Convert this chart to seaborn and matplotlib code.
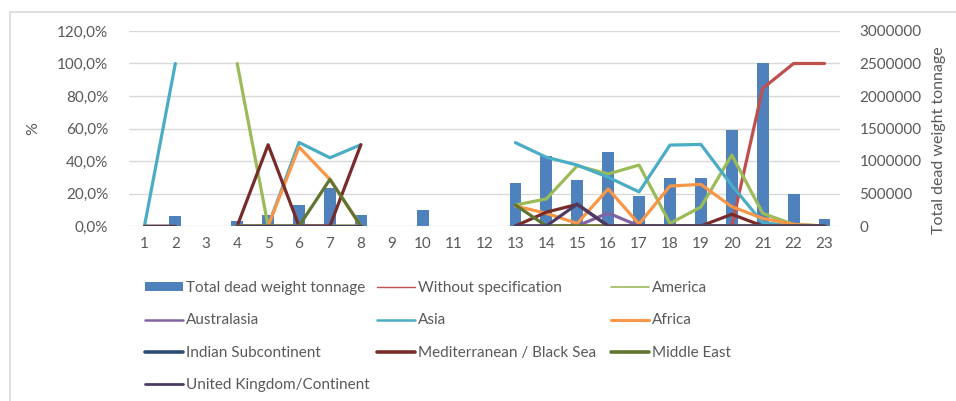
import numpy as np
import pandas as pd
import matplotlib
matplotlib.use("Agg")
import matplotlib.pyplot as plt
from matplotlib.lines import Line2D
from matplotlib.patches import Patch
from matplotlib.ticker import FuncFormatter, MultipleLocator
import seaborn as sns

# ---- data -------------------------------------------------------------
categories = list(range(1, 24))

total_dwt = [0, 150000, 0, 80000, 170000, 320000, 590000, 170000, 0, 250000,
             0, 0, 660000, 1070000, 710000, 1140000, 460000, 740000, 740000,
             1480000, 2500000, 500000, 110000]

N = None
without_specification = [0, 0, N, 0, 0, 0, 0, 0, N, N, N, N,
                         0, 0, 0, 0, 0, 0, 0, 0, 0.847, 1.0, 1.0]
america = [0, 0, N, 1.0, 0, 0, 0, 0, N, N, N, N,
           0.129, 0.167, 0.371, 0.32, 0.375, 0.016, 0.117, 0.437, 0.078, 0.01, 0]
australasia = [0, 0, N, 0, 0, 0, 0, 0, N, N, N, N,
               0, 0, 0, 0.08, 0, 0, 0, 0, 0, 0, 0]
asia = [0, 1.0, N, 0, 0, 0.514, 0.42, 0.50, N, N, N, N,
        0.513, 0.423, 0.375, 0.30, 0.21, 0.498, 0.502, 0.25, 0.02, 0, 0]
africa = [0, 0, N, 0, 0, 0.486, 0.287, 0, N, N, N, N,
          0.123, 0.078, 0.016, 0.228, 0.012, 0.246, 0.256, 0.119, 0.047, 0.01, 0]
indian_subcontinent = [0, 0, N, 0, 0, 0, 0, 0, N, N, N, N,
                       0, 0, 0, 0, 0, 0, 0, 0, 0, 0, 0]
mediterranean = [0, 0, N, 0, 0.5, 0, 0, 0.5, N, N, N, N,
                 0, 0.085, 0.133, 0, 0, 0, 0, 0.072, 0, 0, 0]
middle_east = [0, 0, N, 0, 0, 0, 0.287, 0, N, N, N, N,
               0.129, 0, 0, 0, 0, 0, 0, 0, 0, 0, 0]
uk_continent = [0, 0, N, 0, 0, 0, 0, 0, N, N, N, N,
                0, 0, 0.135, 0, 0, 0, 0, 0, 0, 0, 0]

series = {
    "Without specification": without_specification,
    "America": america,
    "Australasia": australasia,
    "Asia": asia,
    "Africa": africa,
    "Indian Subcontinent": indian_subcontinent,
    "Mediterranean / Black Sea": mediterranean,
    "Middle East": middle_east,
    "United Kingdom/Continent": uk_continent,
}

colors = {
    "Without specification": "#C0504D",
    "America": "#9BBB59",
    "Australasia": "#8064A2",
    "Asia": "#4BACC6",
    "Africa": "#F79646",
    "Indian Subcontinent": "#2C4D75",
    "Mediterranean / Black Sea": "#772C2A",
    "Middle East": "#5F7530",
    "United Kingdom/Continent": "#4D3B62",
}
legend_widths = {
    "Without specification": 1.0, "America": 1.2, "Australasia": 1.8,
    "Asia": 1.8, "Africa": 2.2, "Indian Subcontinent": 2.6,
    "Mediterranean / Black Sea": 2.6, "Middle East": 2.6,
    "United Kingdom/Continent": 2.0,
}
BAR_COLOR = "#4F81BD"
TEXT = "#595959"
GRID = "#D9D9D9"

# ---- long-form tables ---------------------------------------------------
bars_df = pd.DataFrame({"cat": [str(c) for c in categories], "dwt": total_dwt})

rows = []
for name, vals in series.items():
    seg = 0
    prev_none = True
    for i, v in enumerate(vals):
        if v is None:
            prev_none = True
            continue
        if prev_none:
            seg += 1
            prev_none = False
        rows.append({"series": name, "pos": i, "share": v, "segment": f"{name}-{seg}"})
lines_df = pd.DataFrame(rows)

# ---- figure -------------------------------------------------------------
sns.set_theme(style="white")
plt.rcParams["font.family"] = ["Lato", "DejaVu Sans"]
plt.rcParams["font.size"] = 11

W, H = 956, 401
fig = plt.figure(figsize=(W / 100, H / 100), dpi=100)
fig.patch.set_facecolor("white")

ax_bar = fig.add_axes([129 / W, 1 - 226 / H, 711 / W, 195 / H])
sns.barplot(data=bars_df, x="cat", y="dwt", order=[str(c) for c in categories],
            color=BAR_COLOR, saturation=1, width=0.38, linewidth=0, ax=ax_bar,
            errorbar=None)
ax_line = ax_bar.twinx()

# bars: right-hand scale
ax_bar.set_ylim(0, 3000000)
ax_bar.set_xlim(-0.5, len(categories) - 0.5)
ax_bar.yaxis.set_major_locator(MultipleLocator(500000))
ax_bar.yaxis.tick_right()
ax_bar.yaxis.set_label_position("right")
ax_bar.yaxis.set_major_formatter(FuncFormatter(lambda v, p: f"{int(round(v))}"))
ax_bar.grid(axis="y", color=GRID, linewidth=1.0)
ax_bar.grid(axis="x", visible=False)
ax_bar.set_axisbelow(True)
ax_bar.set_xlabel("")
ax_bar.set_ylabel("Total dead weight tonnage", color=TEXT, fontsize=11.5)
ax_bar.yaxis.set_label_coords(1.1290, 0.44)
ax_bar.tick_params(axis="y", length=0, pad=14, labelcolor=TEXT, labelsize=11)
ax_bar.tick_params(axis="x", length=0, pad=8, labelcolor=TEXT, labelsize=11)
for s in ax_bar.spines.values():
    s.set_visible(False)

# shares: left-hand scale
sns.lineplot(data=lines_df, x="pos", y="share", hue="series", units="segment",
             estimator=None, palette=colors, hue_order=list(series.keys()),
             linewidth=2.3, legend=False, ax=ax_line, sort=False)
ax_line.set_ylim(0, 1.2)
ax_line.set_xlim(-0.5, len(categories) - 0.5)
ax_line.yaxis.tick_left()
ax_line.yaxis.set_label_position("left")
ax_line.yaxis.set_major_locator(MultipleLocator(0.2))
ax_line.yaxis.set_major_formatter(
    FuncFormatter(lambda v, p: f"{v * 100:.1f}%".replace(".", ",")))
ax_line.tick_params(axis="y", length=0, pad=15, labelcolor=TEXT, labelsize=11,
                    left=False, right=False, labelleft=True, labelright=False)
ax_bar.tick_params(axis="y", labelleft=False, labelright=True)
ax_line.set_ylabel("%", color=TEXT, fontsize=11.5)
ax_line.yaxis.set_label_coords(-0.125, 0.5)
ax_line.set_xlabel("")
ax_line.grid(False)
for s in ax_line.spines.values():
    s.set_visible(False)

# ---- legend (three columns, row-major order) ----------------------------
def line_handle(name):
    return Line2D([0], [0], color=colors[name], linewidth=legend_widths[name],
                  solid_capstyle="round")

columns = [
    [("Total dead weight tonnage", Patch(facecolor=BAR_COLOR, edgecolor="none")),
     ("Australasia", line_handle("Australasia")),
     ("Indian Subcontinent", line_handle("Indian Subcontinent")),
     ("United Kingdom/Continent", line_handle("United Kingdom/Continent"))],
    [("Without specification", line_handle("Without specification")),
     ("Asia", line_handle("Asia")),
     ("Mediterranean / Black Sea", line_handle("Mediterranean / Black Sea"))],
    [("America", line_handle("America")),
     ("Africa", line_handle("Africa")),
     ("Middle East", line_handle("Middle East"))],
]
col_x = [145, 377, 611]
for x0, col in zip(col_x, columns):
    fig.legend([h for _, h in col], [l for l, _ in col],
               loc="upper left", bbox_to_anchor=(x0 / W, 1 - 281 / H),
               frameon=False, handlelength=2.5, handleheight=0.45,
               handletextpad=0.2, labelspacing=1.2, borderpad=0,
               borderaxespad=0, fontsize=11, labelcolor=TEXT)

# chart frame
fig.add_artist(Line2D([10 / W, 1], [1 - 12 / H, 1 - 12 / H],
                      transform=fig.transFigure, color=GRID, linewidth=1.2))
fig.add_artist(Line2D([10 / W, 10 / W], [0, 1 - 12 / H],
                      transform=fig.transFigure, color=GRID, linewidth=1.2))

fig.savefig("out.png", dpi=100, facecolor="white")
